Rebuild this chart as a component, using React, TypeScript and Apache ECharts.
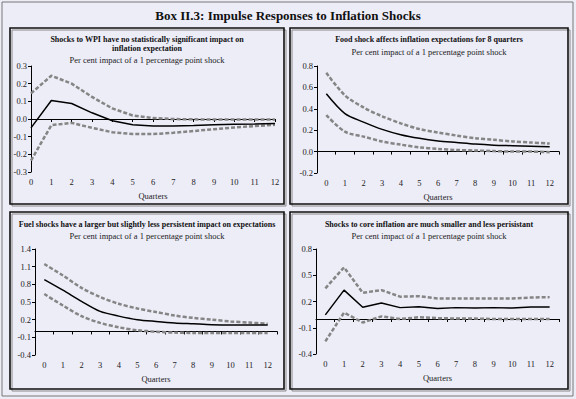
import React, { useEffect, useRef } from "react";
import * as echarts from "echarts";

const quarters = ["0", "1", "2", "3", "4", "5", "6", "7", "8", "9", "10", "11", "12"];

const wpiMid = [-0.05, 0.105, 0.088, 0.035, -0.01, -0.033, -0.04, -0.04, -0.037, -0.033, -0.03, -0.028, -0.025];
const wpiUpper = [0.145, 0.245, 0.2, 0.125, 0.06, 0.02, 0.005, 0.0, -0.002, -0.003, -0.003, -0.003, -0.003];
const wpiLower = [-0.235, -0.035, -0.022, -0.05, -0.075, -0.085, -0.085, -0.078, -0.068, -0.058, -0.048, -0.04, -0.033];

const foodMid = [0.54, 0.355, 0.276, 0.208, 0.158, 0.124, 0.1, 0.085, 0.07, 0.06, 0.055, 0.05, 0.045];
const foodUpper = [0.736, 0.525, 0.413, 0.33, 0.264, 0.211, 0.178, 0.15, 0.125, 0.11, 0.095, 0.085, 0.075];
const foodLower = [0.34, 0.186, 0.14, 0.095, 0.065, 0.04, 0.025, 0.015, 0.01, 0.005, 0.0, 0.0, -0.005];

const fuelMid = [0.88, 0.7, 0.51, 0.34, 0.26, 0.2, 0.17, 0.145, 0.13, 0.115, 0.11, 0.11, 0.11];
const fuelUpper = [1.145, 0.95, 0.74, 0.585, 0.47, 0.39, 0.33, 0.27, 0.23, 0.2, 0.17, 0.15, 0.13];
const fuelLower = [0.635, 0.44, 0.26, 0.145, 0.07, 0.02, -0.005, -0.02, -0.025, -0.025, -0.025, -0.025, -0.025];

const coreMid = [0.047, 0.33, 0.134, 0.183, 0.13, 0.14, 0.12, 0.13, 0.125, 0.13, 0.125, 0.137, 0.137];
const coreUpper = [0.35, 0.59, 0.3, 0.33, 0.255, 0.26, 0.235, 0.235, 0.235, 0.235, 0.235, 0.245, 0.25];
const coreLower = [-0.256, 0.073, -0.04, 0.03, 0.0, 0.02, 0.01, 0.005, 0.005, 0.0, 0.0, 0.0, 0.0];

const ticksTall = [-0.4, -0.1, 0.2, 0.5, 0.8, 1.1, 1.4];
const ticksCore = [-0.4, -0.1, 0.2, 0.5, 0.8];

const mainTitle = "Box II.3: Impulse Responses to Inflation Shocks";
const panelTitles = [
  "Shocks to WPI have no statistically significant impact on\ninflation expectation",
  "Food shock affects inflation expectations for 8 quarters",
  "Fuel shocks have a larger but slightly less persistent impact on expectations",
  "Shocks to core inflation are much smaller and less perisistant",
];
const subTitle = "Per cent impact of a 1 percentage point shock";

const FONT = "'Liberation Serif', 'DejaVu Serif', serif";
const BG = "#ededf8";

export default function App() {
  const ref = useRef<HTMLDivElement>(null);
  useEffect(() => {
    if (!ref.current) return;
    const chart = echarts.init(ref.current, undefined, { renderer: "svg" });

    const grids = [
      { left: 31, top: 66, width: 244, height: 106 },
      { left: 317, top: 66, width: 242, height: 107 },
      { left: 35, top: 249, width: 242, height: 106 },
      { left: 316, top: 249, width: 243, height: 105 },
    ];
    const gaps = [false, true, true, true];

    const xAxes: any[] = [];
    grids.forEach((g, i) => {
      xAxes.push({
        type: "category",
        gridIndex: i,
        data: quarters,
        boundaryGap: gaps[i],
        axisLine: { show: true, onZero: true, lineStyle: { color: "#000", width: 1 } },
        axisTick: { show: true, length: 3, lineStyle: { color: "#000" } },
        axisLabel: { show: false },
        splitLine: { show: false },
      });
      xAxes.push({
        type: "category",
        gridIndex: i,
        data: quarters,
        boundaryGap: gaps[i],
        position: "bottom",
        axisLine: { show: false, onZero: false },
        axisTick: { show: false },
        axisLabel: { show: true, fontSize: 8.5, color: "#222", fontFamily: FONT, margin: 5 },
        name: "Quarters",
        nameLocation: "middle",
        nameGap: 19,
        nameTextStyle: { fontSize: 8.5, color: "#222", fontFamily: FONT },
        splitLine: { show: false },
      });
    });

    const yBase = {
      type: "value",
      axisLine: { show: true, lineStyle: { color: "#000", width: 1 } },
      axisTick: { show: true, length: 3, lineStyle: { color: "#000" } },
      axisLabel: {
        fontSize: 8.5,
        color: "#222",
        fontFamily: FONT,
        margin: 4,
        formatter: (v: number) => v.toFixed(1),
      },
      splitLine: { show: false },
    };
    const yAxes: any[] = [
      { ...yBase, gridIndex: 0, min: -0.3, max: 0.3, interval: 0.1 },
      { ...yBase, gridIndex: 1, min: -0.2, max: 0.8, interval: 0.2 },
      {
        ...yBase,
        gridIndex: 2,
        min: -0.4,
        max: 1.4,
        axisLabel: { ...yBase.axisLabel, customValues: ticksTall },
        axisTick: { ...yBase.axisTick, customValues: ticksTall },
      },
      {
        ...yBase,
        gridIndex: 3,
        min: -0.4,
        max: 0.8,
        axisLabel: { ...yBase.axisLabel, customValues: ticksCore },
        axisTick: { ...yBase.axisTick, customValues: ticksCore },
      },
    ];

    const sets = [
      [wpiUpper, wpiMid, wpiLower],
      [foodUpper, foodMid, foodLower],
      [fuelUpper, fuelMid, fuelLower],
      [coreUpper, coreMid, coreLower],
    ];
    const smooths = [false, 0.3, 0.3, false];
    const series: any[] = [];
    sets.forEach((s, i) => {
      s.forEach((d, j) => {
        const dashed = j !== 1;
        series.push({
          type: "line",
          xAxisIndex: i * 2,
          yAxisIndex: i,
          data: d,
          symbol: "none",
          smooth: smooths[i],
          silent: true,
          z: dashed ? 2 : 3,
          lineStyle: dashed
            ? { color: "#858585", width: 2.5, type: [4, 2] }
            : { color: "#000", width: 1.5 },
        });
      });
    });

    const panels = [
      [10, 28, 274, 176],
      [290, 28, 278, 176],
      [10, 212, 274, 177],
      [290, 212, 278, 177],
    ];
    const graphics: any[] = [];
    graphics.push({
      type: "rect",
      shape: { x: 2, y: 2, width: 571, height: 394 },
      style: { fill: "none", stroke: "#777", lineWidth: 1 },
      silent: true,
    });
    panels.forEach((p) => {
      graphics.push({
        type: "rect",
        shape: { x: p[0] + 2, y: p[1] + 2, width: p[2], height: p[3] },
        style: { fill: "none", stroke: "#888", lineWidth: 1 },
        silent: true,
      });
      graphics.push({
        type: "rect",
        shape: { x: p[0], y: p[1], width: p[2], height: p[3] },
        style: { fill: "none", stroke: "#111", lineWidth: 1.6 },
        silent: true,
      });
    });
    graphics.push({
      type: "text",
      x: 288,
      y: 15,
      style: {
        text: mainTitle,
        align: "center",
        verticalAlign: "middle",
        fontSize: 13,
        fontWeight: "bold",
        fontFamily: FONT,
        fill: "#111",
      },
      silent: true,
    });
    const titlePos = [
      [147, 43.5, 60],
      [429, 39, 52],
      [147, 224, 236],
      [429, 224, 236],
    ];
    titlePos.forEach((t, i) => {
      graphics.push({
        type: "text",
        x: t[0],
        y: t[1],
        style: {
          text: panelTitles[i],
          align: "center",
          verticalAlign: "middle",
          fontSize: 8,
          lineHeight: 9,
          fontWeight: "bold",
          fontFamily: FONT,
          fill: "#111",
        },
        silent: true,
      });
      graphics.push({
        type: "text",
        x: t[0],
        y: t[2],
        style: {
          text: subTitle,
          align: "center",
          verticalAlign: "middle",
          fontSize: 8.5,
          fontFamily: FONT,
          fill: "#222",
        },
        silent: true,
      });
    });

    chart.setOption({
      animation: false,
      backgroundColor: BG,
      grid: grids.map((g) => ({ ...g, containLabel: false })),
      xAxis: xAxes,
      yAxis: yAxes,
      series,
      graphic: graphics,
    });
    return () => chart.dispose();
  }, []);
  return (
    <div
      ref={ref}
      style={{ position: "fixed", left: 0, top: 0, width: 576, height: 399 }}
    />
  );
}
